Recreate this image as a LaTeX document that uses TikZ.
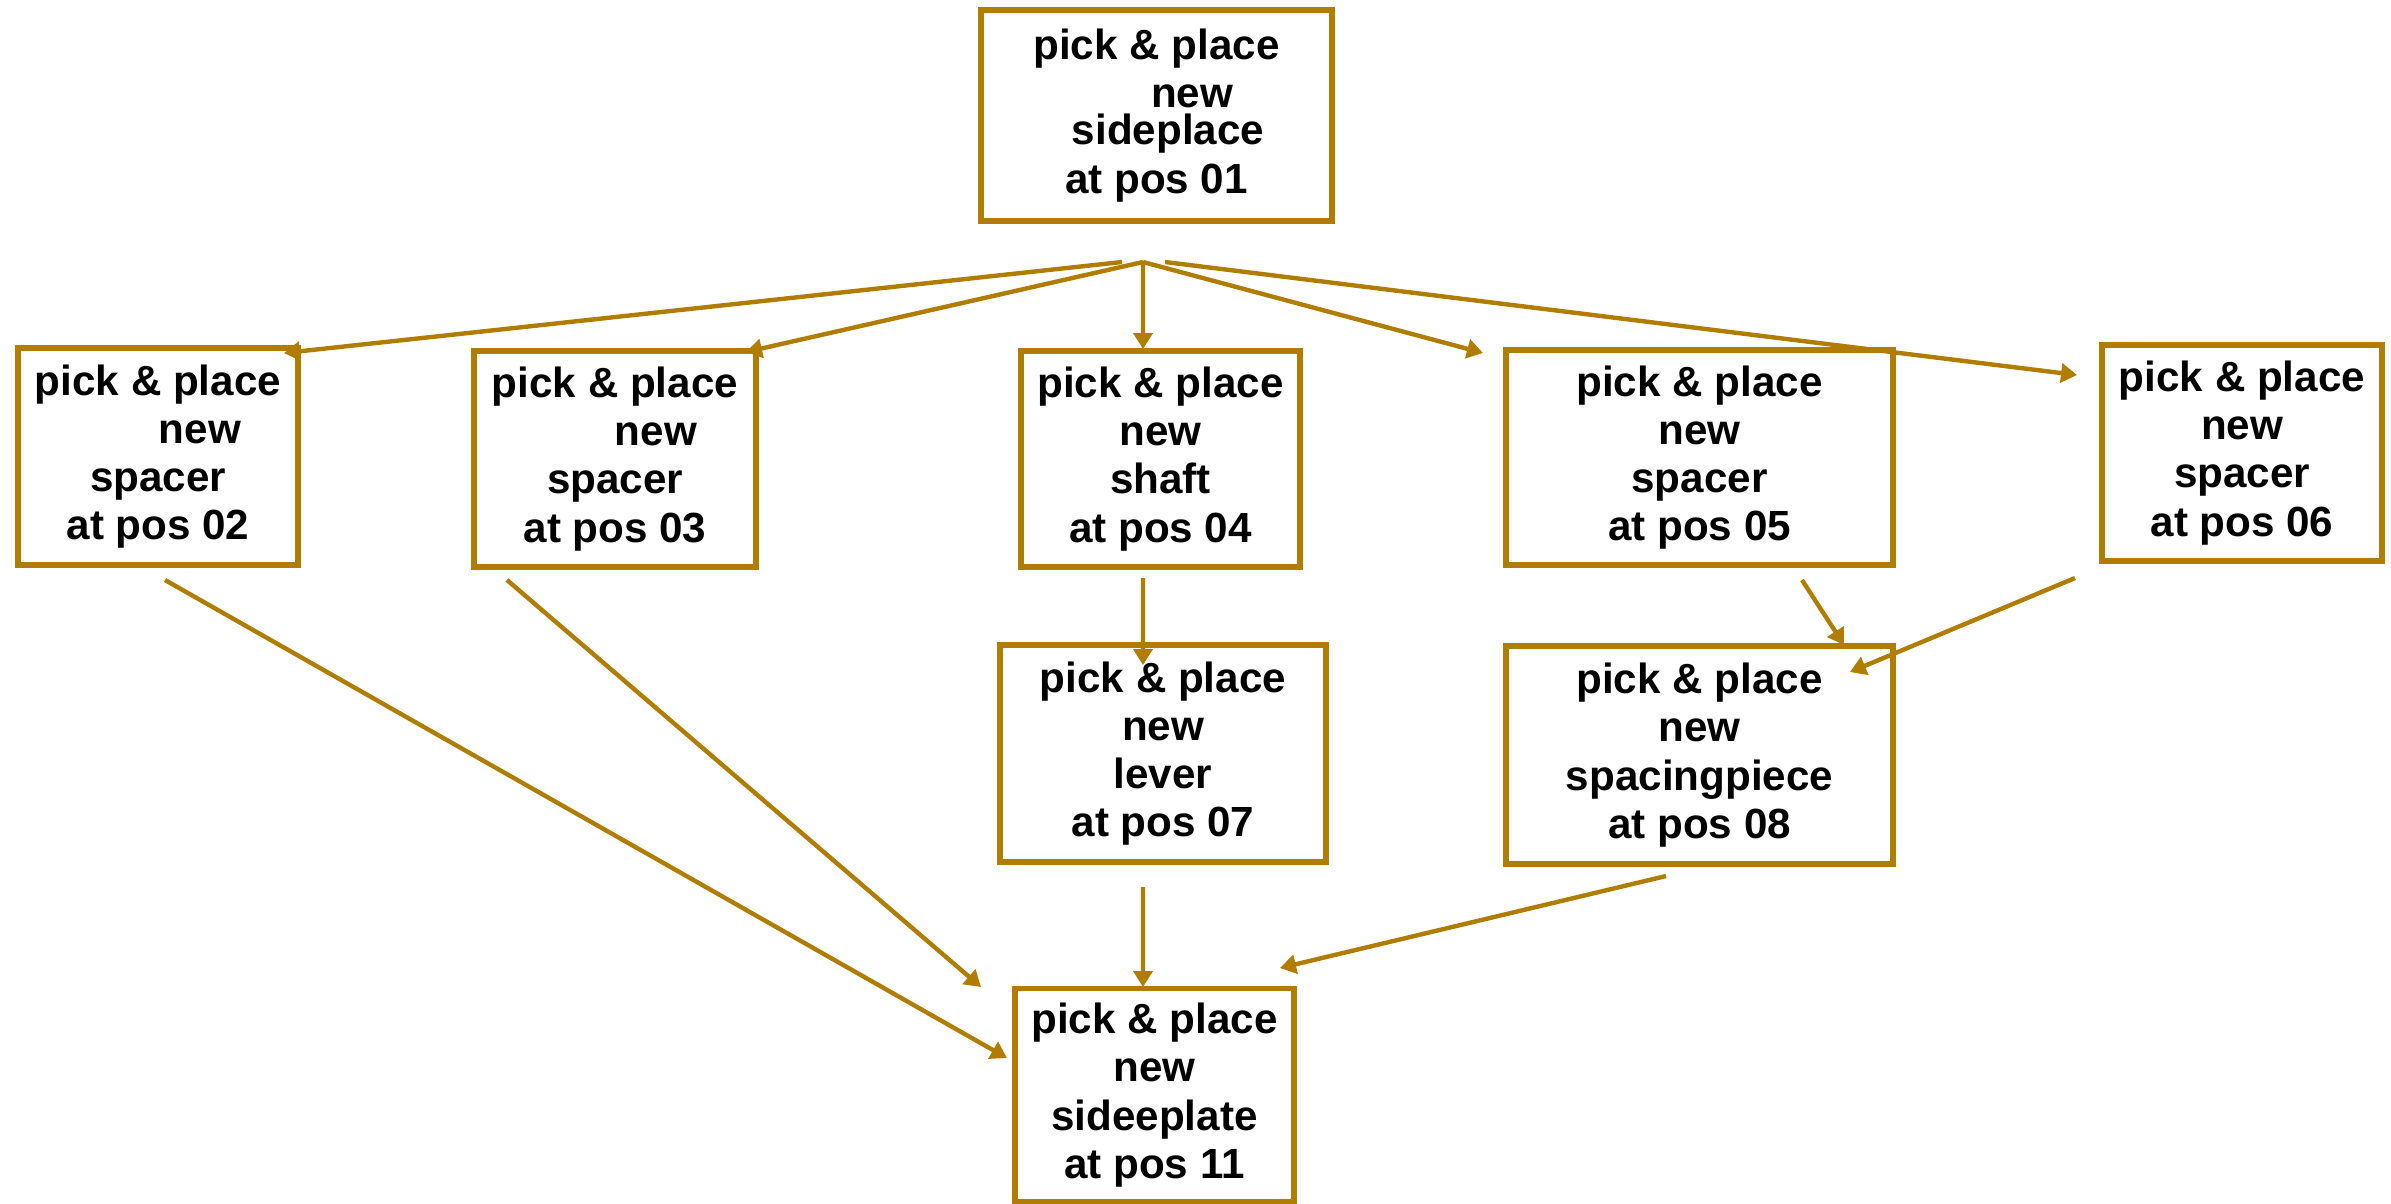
\documentclass[tikz,border=0pt]{standalone}
\usepackage{fontspec}
\setmainfont{Liberation Sans}
\usepackage{tikz}
\usetikzlibrary{arrows.meta}
\pgfdeclarelayer{bg}
\pgfsetlayers{bg,main}
\definecolor{flowgold}{RGB}{176,125,0}
\tikzset{
  ppbox/.style={draw=flowgold, line width=1.5pt, rectangle, inner sep=0pt, outer sep=0pt,
    align=center, font=\bfseries\fontsize{12}{13.7}\selectfont},
  flow/.style={draw=flowgold, line width=1.25pt, -{Triangle[length=1.6mm,width=1.9mm]}}
}

\begin{document}
\begin{tikzpicture}
        \useasboundingbox (0cm, 0cm) rectangle (23.91cm, -12.03cm);
        \node (n01) [ppbox, minimum width=3.51cm, minimum height=2.11cm] at (11.565cm, -1.155cm)
                {pick \& place\\\hspace*{7.1mm}new\\[-1.1mm]\hspace*{2.3mm}sideplace\\at pos 01};
        \node (n02) [ppbox, minimum width=2.80cm, minimum height=2.17cm] at (1.580cm, -4.565cm)
                {pick \& place\\\hspace*{8.4mm}new\\spacer\\at pos 02};
        \node (n03) [ppbox, minimum width=2.82cm, minimum height=2.16cm] at (6.150cm, -4.590cm)
                {pick \& place\\\hspace*{8.2mm}new\\spacer\\at pos 03};
        \node (n04) [ppbox, minimum width=2.79cm, minimum height=2.16cm] at (11.605cm, -4.590cm)
                {pick \& place\\new\\shaft\\at pos 04};
        \node (n05) [ppbox, minimum width=3.87cm, minimum height=2.15cm] at (16.995cm, -4.575cm)
                {pick \& place\\new\\spacer\\at pos 05};
        \node (n06) [ppbox, minimum width=2.80cm, minimum height=2.16cm] at (22.420cm, -4.530cm)
                {pick \& place\\new\\spacer\\at pos 06};
        \node (n07) [ppbox, minimum width=3.26cm, minimum height=2.17cm] at (11.630cm, -7.535cm)
                {pick \& place\\new\\lever\\at pos 07};
        \node (n08) [ppbox, minimum width=3.87cm, minimum height=2.18cm] at (16.995cm, -7.550cm)
                {pick \& place\\new\\spacingpiece\\at pos 08};
        \node (n11) [ppbox, minimum width=2.79cm, minimum height=2.13cm] at (11.545cm, -10.950cm)
                {pick \& place\\new\\sideeplate\\at pos 11};
        \coordinate (fan) at ([shift={(-0.135cm,-0.41cm)}]n01.south);
        \begin{pgfonlayer}{bg}
                % fan out from the first plate
                \draw[flow] ([xshift=-0.21cm]fan) -- ([shift={(-0.14cm,-0.05cm)}]n02.north east);
                \draw[flow] (fan) -- ([shift={(-0.10cm,-0.01cm)}]n03.north east);
                \draw[flow] (fan) -- ([shift={(-0.175cm,0.02cm)}]n04.north);
                \draw[flow] (fan) -- ([shift={(-0.23cm,-0.03cm)}]n05.north west);
                \draw[flow] ([xshift=0.22cm]fan) -- ([shift={(-0.25cm,-0.30cm)}]n06.north west);
                % second row
                \draw[flow] ([shift={(-0.175cm,-0.11cm)}]n04.south) -- ([shift={(-0.20cm,-0.20cm)}]n07.north);
                \draw[flow] ([shift={(1.025cm,-0.15cm)}]n05.south) -- ([shift={(1.445cm,0.01cm)}]n08.north);
                \draw[flow] ([shift={(-1.67cm,-0.17cm)}]n06.south) -- ([shift={(-0.43cm,-0.26cm)}]n08.north east);
                % into the last plate
                \draw[flow] ([shift={(0.07cm,-0.15cm)}]n02.south) -- ([shift={(-0.08cm,0.37cm)}]n11.west);
                \draw[flow] ([shift={(-1.08cm,-0.13cm)}]n03.south) -- ([shift={(-0.34cm,0.015cm)}]n11.north west);
                \draw[flow] ([shift={(-0.20cm,-0.25cm)}]n07.south) -- ([shift={(-0.115cm,0.015cm)}]n11.north);
                \draw[flow] ([shift={(-0.335cm,-0.12cm)}]n08.south) -- ([shift={(-0.14cm,0.205cm)}]n11.north east);
        \end{pgfonlayer}
\end{tikzpicture}
\end{document}
